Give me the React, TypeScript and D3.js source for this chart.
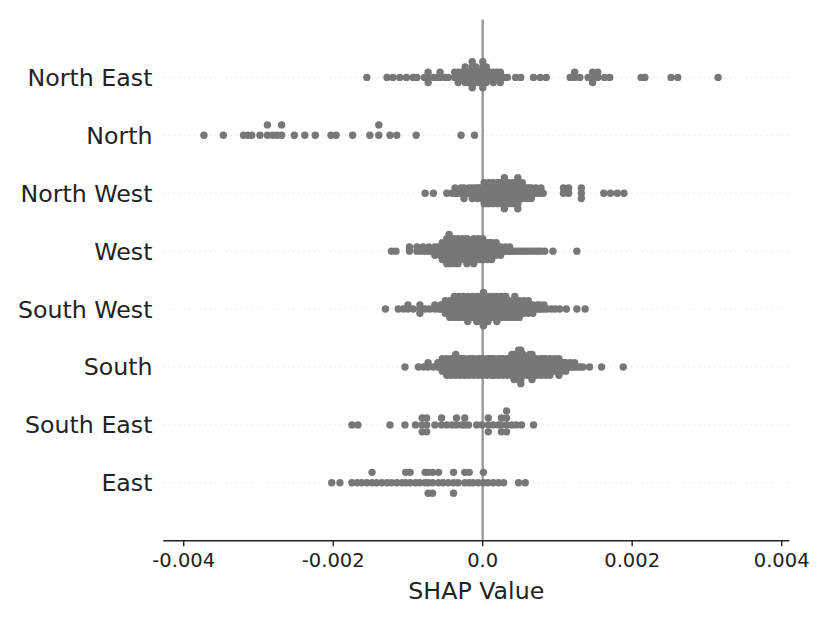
import React from 'react';
import * as d3 from 'd3';

// Feature names, top to bottom
const features = ['North East', 'North', 'North West', 'West', 'South West', 'South', 'South East', 'East'];

// SHAP values per feature as [value (units of 1e-4), number of points at that value]
const UNIT = 1e-4;
type Pair = [number, number];
const northEast: Pair[] = [
  [-15.5, 1], [-12.8, 1], [-12.0, 1], [-11.1, 1], [-10.2, 1], [-9.3, 1], [-8.8, 1], [-7.8, 1], [-7.3, 3],
  [-6.6, 1], [-6.1, 1], [-5.7, 2], [-5.0, 1], [-4.6, 1],
  [-3.75, 2], [-3.28, 3], [-2.81, 2], [-2.34, 4], [-1.87, 3], [-1.4, 6], [-0.93, 4], [-0.46, 3],
  [0.01, 6], [0.48, 4], [0.95, 2], [1.42, 3], [1.89, 2], [2.36, 3], [2.83, 1], [3.3, 1],
  [4.4, 1], [5.1, 1], [6.8, 1], [7.7, 1], [8.5, 1],
  [11.7, 1], [12.3, 2], [13.0, 1], [14.1, 1], [14.7, 3], [15.4, 2], [16.3, 1], [17.0, 1],
  [21.2, 1], [21.7, 1], [25.2, 1], [26.1, 1], [31.5, 1],
];
const north: Pair[] = [
  [-37.3, 1], [-34.7, 1], [-32.0, 1], [-31.4, 1], [-30.9, 1], [-29.8, 1], [-28.8, 2], [-28.1, 1], [-27.5, 1],
  [-26.9, 2], [-25.2, 1], [-23.8, 1], [-22.4, 1], [-20.3, 1], [-19.6, 1], [-17.4, 1], [-15.1, 1], [-13.9, 2],
  [-12.4, 1], [-11.5, 1], [-8.9, 1], [-2.9, 1], [-1.1, 1],
];
const northWest: Pair[] = [
  [-7.7, 1], [-6.6, 1], [-4.8, 1], [-4.1, 1], [-3.7, 2], [-3.3, 1], [-2.9, 2], [-2.5, 3], [-2.1, 1], [-1.8, 2],
  [-1.4, 3], [-1.0, 2], [-0.7, 3], [-0.4, 2], [-0.1, 3], [0.2, 5], [0.5, 3], [0.8, 5], [1.1, 4], [1.4, 5],
  [1.7, 3], [2.0, 5], [2.3, 4], [2.6, 5], [2.9, 7], [3.2, 4], [3.5, 5], [3.8, 3], [4.1, 5], [4.4, 4],
  [4.7, 7], [5.0, 3], [5.3, 4], [5.6, 2], [5.9, 3], [6.2, 2], [6.5, 3], [6.8, 1], [7.1, 2], [7.4, 1],
  [7.8, 2], [8.1, 1], [10.8, 2], [11.5, 2], [13.2, 3], [16.2, 1], [17.1, 1], [18.0, 1], [18.9, 1],
];
const west: Pair[] = [
  [-12.2, 1], [-11.6, 1], [-9.8, 2], [-8.8, 2], [-8.4, 1], [-8.0, 2], [-7.6, 1], [-7.2, 2], [-6.8, 1],
  [-6.4, 3], [-6.0, 2], [-5.7, 3], [-5.4, 5], [-5.1, 3], [-4.8, 7], [-4.5, 8], [-4.2, 5], [-3.9, 7],
  [-3.6, 4], [-3.3, 7], [-3.0, 5], [-2.7, 6], [-2.4, 3], [-2.1, 7], [-1.8, 5], [-1.5, 4], [-1.2, 7],
  [-0.9, 3], [-0.6, 6], [-0.3, 5], [0.0, 6], [0.3, 3], [0.6, 5], [0.9, 4], [1.2, 5], [1.5, 2], [1.8, 4],
  [2.1, 2], [2.4, 3], [2.7, 1], [3.0, 2], [3.3, 1], [3.6, 2], [3.9, 1], [4.2, 1], [4.6, 1], [5.0, 1],
  [5.4, 1], [5.8, 1], [6.2, 1], [6.6, 1], [7.0, 1], [7.4, 1], [7.8, 1], [8.3, 1], [9.4, 1], [12.6, 1],
];
const southWest: Pair[] = [
  [-13.0, 1], [-11.3, 1], [-10.6, 1], [-10.0, 2], [-9.3, 1], [-8.4, 3], [-7.7, 1], [-7.1, 1], [-6.4, 2],
  [-5.9, 1], [-5.6, 2], [-5.3, 2], [-5.0, 4], [-4.7, 2], [-4.4, 5], [-4.1, 3], [-3.8, 6], [-3.5, 4],
  [-3.2, 6], [-2.9, 3], [-2.6, 6], [-2.3, 5], [-2.0, 7], [-1.7, 4], [-1.4, 6], [-1.1, 5], [-0.8, 7],
  [-0.5, 4], [-0.2, 7], [0.1, 9], [0.4, 5], [0.7, 7], [1.0, 4], [1.3, 6], [1.6, 5], [1.9, 7], [2.2, 4],
  [2.5, 6], [2.8, 3], [3.1, 6], [3.4, 5], [3.7, 3], [4.0, 5], [4.3, 6], [4.6, 3], [4.9, 5], [5.2, 3],
  [5.5, 4], [5.8, 2], [6.1, 4], [6.4, 2], [6.7, 3], [7.0, 1], [7.3, 2], [7.6, 2], [7.9, 1], [8.2, 2],
  [8.6, 1], [9.2, 1], [9.7, 1], [10.3, 1], [11.2, 1], [12.6, 1], [13.7, 1],
];
const south: Pair[] = [
  [-10.4, 1], [-8.6, 1], [-7.9, 1], [-7.3, 2], [-6.6, 1], [-6.0, 2], [-5.7, 2], [-5.4, 4], [-5.1, 3],
  [-4.8, 5], [-4.5, 3], [-4.2, 5], [-3.9, 4], [-3.6, 6], [-3.3, 3], [-3.0, 5], [-2.7, 4], [-2.4, 5],
  [-2.1, 3], [-1.8, 5], [-1.5, 4], [-1.2, 5], [-0.9, 3], [-0.6, 5], [-0.3, 4], [0.0, 5], [0.3, 3],
  [0.6, 5], [0.9, 4], [1.2, 5], [1.5, 5], [1.8, 3], [2.1, 5], [2.4, 4], [2.7, 5], [3.0, 3], [3.3, 5],
  [3.6, 4], [3.9, 6], [4.2, 7], [4.5, 5], [4.8, 8], [5.1, 9], [5.4, 6], [5.7, 4], [6.0, 5], [6.3, 6],
  [6.6, 7], [6.9, 4], [7.2, 5], [7.5, 3], [7.8, 5], [8.1, 4], [8.4, 5], [8.7, 3], [9.0, 5], [9.3, 3],
  [9.6, 4], [9.9, 2], [10.2, 5], [10.5, 3], [10.8, 2], [11.1, 3], [11.4, 1], [11.7, 2], [12.0, 1],
  [12.3, 2], [12.7, 1], [13.0, 1], [13.4, 1], [14.3, 1], [15.9, 1], [18.8, 1],
];
const southEast: Pair[] = [
  [-17.5, 1], [-16.7, 1], [-12.4, 1], [-10.4, 1], [-9.0, 1], [-8.1, 3], [-7.5, 3], [-6.4, 1], [-5.5, 2],
  [-4.8, 1], [-4.1, 1], [-3.5, 2], [-2.8, 1], [-2.4, 2], [-1.9, 1], [-0.8, 1], [-0.1, 1], [0.75, 3],
  [1.4, 1], [2.1, 1], [2.5, 3], [3.2, 4], [3.9, 1], [4.5, 1], [5.2, 1], [6.8, 1],
];
const east: Pair[] = [
  [-20.2, 1], [-19.1, 1], [-17.5, 1], [-16.8, 1], [-16.2, 1], [-15.5, 1], [-14.8, 2], [-14.2, 1],
  [-13.5, 1], [-12.8, 1], [-12.2, 1], [-11.5, 1], [-10.8, 1], [-10.3, 2], [-9.7, 2], [-9.0, 1], [-8.4, 1],
  [-7.7, 2], [-7.3, 3], [-6.7, 3], [-5.9, 2], [-5.3, 1], [-4.6, 1], [-3.9, 3], [-3.3, 1], [-2.4, 2],
  [-1.8, 2], [-1.3, 1], [-0.6, 1], [0.1, 2], [0.7, 1], [1.4, 1], [2.1, 1], [2.8, 1], [4.8, 1], [5.7, 1],
];
const rows = [northEast, north, northWest, west, southWest, south, southEast, east];

const xTicks = [-0.004, -0.002, 0, 0.002, 0.004];
const xTickLabels = ['-0.004', '-0.002', '0.0', '0.002', '0.004'];
const xLabel = 'SHAP Value';

const W = 830;
const H = 623;
const FONT = 'DejaVu Sans';

function expand(pairs: Pair[]): number[] {
  const out: number[] = [];
  pairs.forEach(([v, n]) => {
    for (let k = 0; k < n; k++) out.push(v * UNIT);
  });
  return out;
}

// shap-style beeswarm vertical offsets
function swarm(vals: number[]): number[] {
  const N = vals.length;
  const nbins = 100;
  const mn = d3.min(vals) as number;
  const mx = d3.max(vals) as number;
  const quant = vals.map((v) => Math.round((nbins * (v - mn)) / (mx - mn + 1e-8)));
  const inds = d3.range(N).sort((a, b) => quant[a] - quant[b] || a - b);
  const ys = new Array(N).fill(0);
  let layer = 0;
  let last = -1;
  for (const i of inds) {
    if (quant[i] !== last) layer = 0;
    ys[i] = Math.ceil(layer / 2) * ((layer % 2) * 2 - 1);
    layer += 1;
    last = quant[i];
  }
  const m = d3.max(ys.map((y) => y + 1)) as number;
  return ys.map((y) => (y * 0.9 * 0.4) / m);
}

export default function App() {
  const x = d3.scaleLinear().domain([-0.004273, 0.004102]).range([163.3, 789.3]);
  const y = d3.scaleLinear().domain([-1, 8]).range([19.5, 540.7]);
  const [x0, x1] = x.range();
  const axisY = y(8);

  const dots: { cx: number; cy: number; key: string }[] = [];
  rows.forEach((pairs, r) => {
    const real = expand(pairs);
    const ys = swarm(real);
    real.forEach((v, j) => {
      dots.push({ cx: x(v), cy: y(r - ys[j]), key: `${r}-${j}` });
    });
  });

  return (
    <svg
      width={W}
      height={H}
      style={{ position: 'absolute', left: 0, top: 0, background: '#fff' }}
      fontFamily={FONT}
    >
      <rect x={0} y={0} width={W} height={H} fill="#fff" />
      {features.map((f, i) => (
        <line
          key={`g${i}`}
          x1={x0}
          x2={x1}
          y1={y(i)}
          y2={y(i)}
          stroke="#cccccc"
          strokeWidth={0.87}
          strokeDasharray="0.87 4.33"
        />
      ))}
      <line x1={x(0)} x2={x(0)} y1={y(-1)} y2={axisY} stroke="#999999" strokeWidth={2.4} />
      {dots.map((d) => (
        <circle key={d.key} cx={d.cx} cy={d.cy} r={3.7} fill="#777777" />
      ))}
      <line x1={x0} x2={x1} y1={axisY} y2={axisY} stroke="#222" strokeWidth={1.4} />
      {xTicks.map((t, i) => (
        <g key={`t${i}`}>
          <line x1={x(t)} x2={x(t)} y1={axisY} y2={axisY + 5.5} stroke="#222" strokeWidth={1.4} />
          <text x={x(t)} y={567} textAnchor="middle" fontSize={19.5} fill="#222">
            {xTickLabels[i]}
          </text>
        </g>
      ))}
      <text x={(x0 + x1) / 2} y={598.5} textAnchor="middle" fontSize={23.7} fill="#222">
        {xLabel}
      </text>
      {features.map((f, i) => (
        <text
          key={`l${i}`}
          x={152.5}
          y={y(i)}
          dy="0.36em"
          textAnchor="end"
          fontSize={23.7}
          fill="#222"
        >
          {f}
        </text>
      ))}
    </svg>
  );
}
